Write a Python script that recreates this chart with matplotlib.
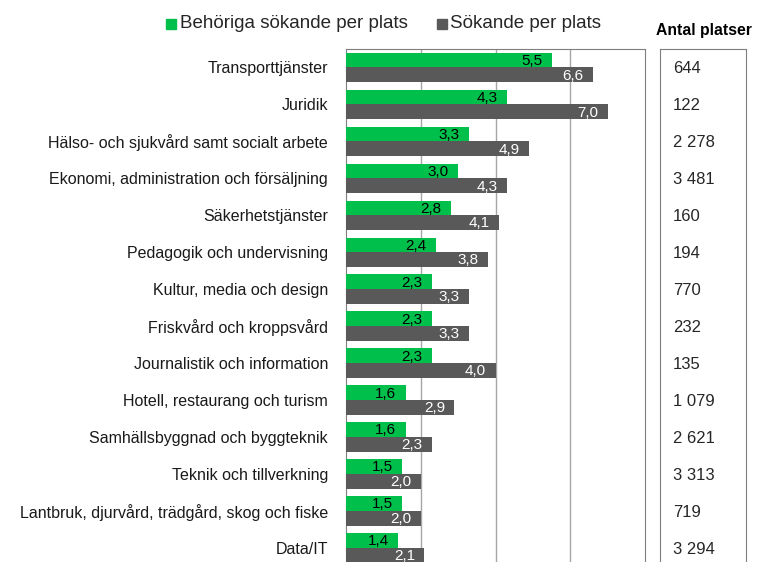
import numpy as np
import matplotlib.pyplot as plt
from matplotlib.patches import Rectangle

plt.rcParams['font.family'] = ['Liberation Sans', 'DejaVu Sans']

categories = ['Transporttjänster', 'Juridik', 'Hälso- och sjukvård samt socialt arbete',
              'Ekonomi, administration och försäljning', 'Säkerhetstjänster',
              'Pedagogik och undervisning', 'Kultur, media och design',
              'Friskvård och kroppsvård', 'Journalistik och information',
              'Hotell, restaurang och turism', 'Samhällsbyggnad och byggteknik',
              'Teknik och tillverkning', 'Lantbruk, djurvård, trädgård, skog och fiske',
              'Data/IT']
behoriga = [5.5, 4.3, 3.3, 3.0, 2.8, 2.4, 2.3, 2.3, 2.3, 1.6, 1.6, 1.5, 1.5, 1.4]
sokande = [6.6, 7.0, 4.9, 4.3, 4.1, 3.8, 3.3, 3.3, 4.0, 2.9, 2.3, 2.0, 2.0, 2.1]
platser = ['644', '122', '2 278', '3 481', '160', '194', '770', '232', '135',
           '1 079', '2 621', '3 313', '719', '3 294']

green = '#00C04B'
gray = '#595959'

fig = plt.figure(figsize=(7.66, 5.62), dpi=100)
W, H = 766, 562
top = 49
bot = 566.5
ax = fig.add_axes([346 / W, 1 - bot / H, (645 - 346) / W, (bot - top) / H])

y = np.arange(len(categories))
h = 0.4
ax.barh(y - h / 2, behoriga, height=h, color=green, zorder=3)
ax.barh(y + h / 2, sokande, height=h, color=gray, zorder=3)

for yi, v in zip(y, behoriga):
    ax.text(v - 0.25, yi - h / 2 + 0.02, f'{v:.1f}'.replace('.', ','), ha='right', va='center',
            fontsize=11, color='black', zorder=4)
for yi, v in zip(y, sokande):
    ax.text(v - 0.25, yi + h / 2 + 0.02, f'{v:.1f}'.replace('.', ','), ha='right', va='center',
            fontsize=11, color='white', zorder=4)

ax.set_xlim(0, 8)
ax.set_ylim(len(categories) - 0.5, -0.5)
ax.set_xticks([2, 4, 6])
ax.xaxis.grid(True, color='#A6A6A6', lw=1)
ax.tick_params(axis='x', length=0, labelbottom=False)
ax.tick_params(axis='y', length=0, labelsize=11.5, pad=13, labelcolor='#1A1A1A')
ax.set_yticks(y)
ax.set_yticklabels(categories)
for s in ax.spines.values():
    s.set_color('#7F7F7F')
ax.spines['bottom'].set_visible(False)

# table on the right
tab = fig.add_axes([660 / W, 1 - bot / H, (746 - 660) / W, (bot - top) / H])
tab.set_xlim(0, 1)
tab.set_ylim(len(categories) - 0.5, -0.5)
tab.set_xticks([])
tab.set_yticks([])
for s in tab.spines.values():
    s.set_color('#7F7F7F')
tab.spines['bottom'].set_visible(False)
for yi, p in zip(y, platser):
    tab.text(0.15, yi + 0.03, p, ha='left', va='center', fontsize=12, color='#262626')
fig.text(704 / W, 1 - 30 / H, 'Antal platser', ha='center', va='center',
         fontsize=11.3, fontweight='bold')

# legend
fig.patches.append(Rectangle((166 / W, 1 - 29 / H), 10 / W, 10 / H, color=green,
                             transform=fig.transFigure, figure=fig))
fig.text(180 / W, 1 - 24 / H, 'Behöriga sökande per plats', ha='left', va='center',
         fontsize=13.5, color='#262626')
fig.patches.append(Rectangle((437 / W, 1 - 29 / H), 10 / W, 10 / H, color=gray,
                             transform=fig.transFigure, figure=fig))
fig.text(450 / W, 1 - 24 / H, 'Sökande per plats', ha='left', va='center',
         fontsize=13.5, color='#262626')

fig.savefig('out.png', dpi=100)
